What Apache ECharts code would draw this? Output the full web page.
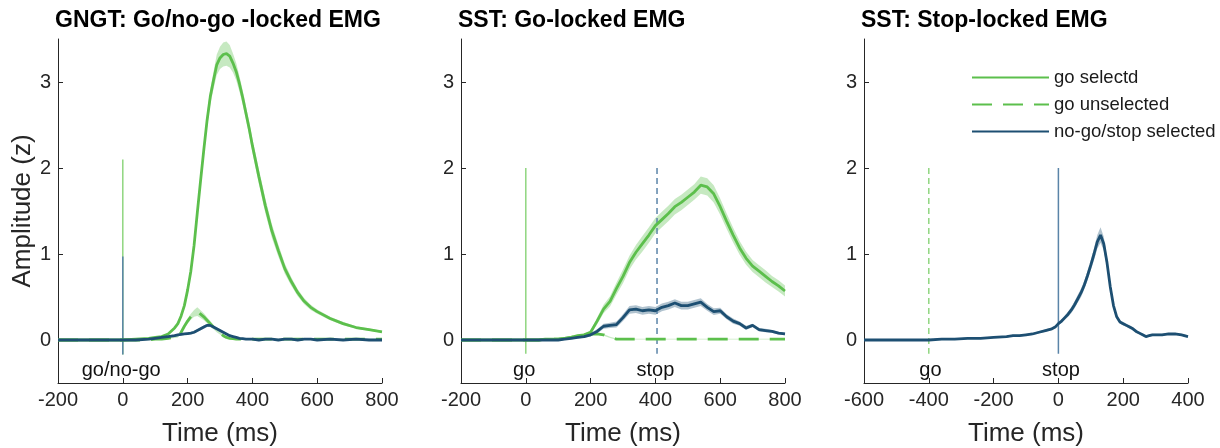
<!DOCTYPE html>
<html>
<head>
<meta charset="utf-8">
<script src="https://cdn.jsdelivr.net/npm/echarts@6/dist/echarts.min.js"></script>
<style>
html,body{margin:0;padding:0;background:#fff;}
#chart{width:1220px;height:448px;}
</style>
</head>
<body>
<div id="chart"></div>
<script>
// ---------------- DATA ----------------
const titles = ['GNGT: Go/no-go -locked EMG', 'SST: Go-locked EMG', 'SST: Stop-locked EMG'];
const seriesNames = ['go selectd', 'go unselected', 'no-go/stop selected'];
const yTicks = [0, 1, 2, 3];
const xRanges = [[-200, 800], [-200, 800], [-600, 400]];

// Panel 1: GNGT go/no-go locked
const t1 = [-200,-160,-120,-80,-40,0,40,80,100,120,140,160,170,180,190,200,210,220,230,240,250,260,270,280,290,300,310,320,330,340,350,360,370,380,390,400,420,440,460,480,500,520,540,560,580,600,640,680,720,760,800];
const p1GoSel = [0,0,0,0,0,0,0.01,0.02,0.03,0.04,0.07,0.14,0.19,0.28,0.40,0.58,0.80,1.10,1.48,1.85,2.21,2.55,2.83,3.02,3.20,3.28,3.32,3.33,3.30,3.22,3.12,2.98,2.82,2.64,2.46,2.26,1.90,1.56,1.27,1.04,0.83,0.68,0.55,0.45,0.38,0.33,0.25,0.19,0.145,0.12,0.095];
const p1GoSelSem = [0.005,0.005,0.005,0.005,0.005,0.005,0.005,0.005,0.006,0.008,0.01,0.015,0.02,0.025,0.03,0.035,0.04,0.045,0.05,0.06,0.07,0.08,0.09,0.10,0.12,0.13,0.14,0.14,0.13,0.11,0.10,0.09,0.085,0.08,0.08,0.08,0.085,0.085,0.08,0.07,0.06,0.05,0.04,0.035,0.03,0.025,0.02,0.018,0.015,0.013,0.012];
const p1GoUnsel = [0,0,0,0,0,0,0,0,0.01,0.01,0.02,0.03,0.04,0.09,0.16,0.22,0.27,0.31,0.33,0.30,0.27,0.23,0.19,0.15,0.11,0.08,0.05,0.03,0.02,0.015,0.01,0.01,0.01,0.01,0.01,0.01,0.01,0.01,0.01,0.01,0.01,0.01,0.01,0.01,0.01,0.01,0.01,0.01,0.01,0.01,0.01];
const p1GoUnselSem = [0.004,0.004,0.004,0.004,0.004,0.004,0.004,0.004,0.005,0.005,0.006,0.008,0.01,0.015,0.02,0.03,0.035,0.04,0.05,0.045,0.04,0.035,0.03,0.025,0.02,0.015,0.01,0.008,0.006,0.005,0.005,0.005,0.005,0.005,0.005,0.005,0.005,0.005,0.005,0.005,0.005,0.005,0.005,0.005,0.005,0.005,0.005,0.005,0.005,0.005,0.005];
const p1Stop = [0,0,0,0,0,0,0,0.01,0.02,0.03,0.04,0.05,0.06,0.065,0.07,0.075,0.08,0.09,0.11,0.13,0.15,0.17,0.17,0.15,0.13,0.11,0.09,0.07,0.05,0.04,0.03,0.02,0.015,0.01,0.01,0.01,0.0,0.01,0.01,0.0,0.01,0.01,0.0,0.01,0.01,0.0,0.01,0.0,0.01,0.0,0.0];
const p1StopSem = [0.01,0.01,0.01,0.01,0.01,0.01,0.01,0.01,0.01,0.01,0.01,0.012,0.012,0.012,0.012,0.013,0.013,0.014,0.015,0.016,0.018,0.02,0.02,0.018,0.016,0.015,0.013,0.012,0.012,0.01,0.01,0.01,0.01,0.01,0.01,0.01,0.01,0.01,0.01,0.01,0.01,0.01,0.01,0.01,0.01,0.01,0.01,0.01,0.01,0.01,0.01];

// Panel 2: SST go locked
const t2 = [-200,-180,-160,-140,-120,-100,-80,-60,-40,-20,0,20,40,60,80,100,120,140,160,180,200,220,240,260,280,300,320,340,360,380,400,420,440,460,480,500,520,540,560,580,600,620,640,660,680,700,720,740,760,780,800];
const p2GoSel = [0,0,0,0,0,0,0,0,0,0,0,0,0,0.01,0.01,0.01,0.02,0.03,0.05,0.06,0.09,0.22,0.36,0.45,0.60,0.74,0.90,1.02,1.12,1.22,1.33,1.40,1.47,1.55,1.60,1.66,1.72,1.80,1.78,1.70,1.55,1.38,1.22,1.07,0.95,0.86,0.80,0.74,0.68,0.63,0.57];
const p2GoSelSem = [0.005,0.005,0.005,0.005,0.005,0.005,0.005,0.005,0.005,0.005,0.005,0.005,0.005,0.005,0.005,0.006,0.008,0.01,0.012,0.015,0.02,0.04,0.05,0.06,0.07,0.08,0.08,0.085,0.09,0.09,0.09,0.09,0.09,0.09,0.09,0.09,0.09,0.1,0.1,0.1,0.095,0.09,0.085,0.08,0.075,0.07,0.07,0.07,0.065,0.065,0.065];
const p2GoUnsel = [0,0,0,0,0,0,0,0,0,0,0,0,0,0.01,0.01,0.01,0.02,0.03,0.05,0.06,0.07,0.07,0.06,0.03,0.01,0.01,0.01,0.01,0.01,0.01,0.01,0.01,0.01,0.01,0.01,0.01,0.01,0.01,0.01,0.01,0.01,0.01,0.01,0.01,0.01,0.01,0.01,0.01,0.01,0.01,0.01];
const p2GoUnselSem = [0.004,0.004,0.004,0.004,0.004,0.004,0.004,0.004,0.004,0.004,0.004,0.004,0.004,0.004,0.004,0.004,0.005,0.006,0.008,0.01,0.012,0.012,0.01,0.008,0.006,0.005,0.005,0.005,0.005,0.005,0.005,0.005,0.005,0.005,0.005,0.005,0.005,0.005,0.005,0.005,0.005,0.005,0.005,0.005,0.005,0.005,0.005,0.005,0.005,0.005,0.005];
const p2Stop = [0,0,0,0,0,0,0,0,0,0,0,0,0,0,0,0,0.01,0.02,0.03,0.04,0.06,0.10,0.16,0.17,0.18,0.26,0.35,0.36,0.34,0.35,0.34,0.38,0.40,0.43,0.40,0.40,0.42,0.44,0.38,0.33,0.34,0.27,0.22,0.19,0.14,0.17,0.12,0.11,0.10,0.08,0.07];
const p2StopSem = [0.008,0.008,0.008,0.008,0.008,0.008,0.008,0.008,0.008,0.008,0.008,0.008,0.008,0.008,0.008,0.008,0.008,0.01,0.012,0.015,0.02,0.025,0.03,0.03,0.035,0.04,0.045,0.045,0.045,0.045,0.045,0.045,0.045,0.045,0.045,0.045,0.045,0.045,0.04,0.04,0.035,0.03,0.03,0.025,0.025,0.02,0.02,0.02,0.015,0.015,0.015];

// Panel 3: SST stop locked
const t3 = [-600,-560,-520,-480,-440,-400,-360,-320,-280,-240,-200,-160,-140,-120,-100,-80,-60,-40,-20,-10,0,10,20,30,40,50,60,70,80,90,100,110,120,130,140,150,160,170,180,190,200,210,220,230,240,250,260,270,280,290,300,320,340,360,380,400];
const p3Stop = [0,0,0,0,0,0,0.01,0.01,0.02,0.02,0.03,0.04,0.05,0.05,0.06,0.07,0.09,0.11,0.13,0.15,0.19,0.22,0.26,0.30,0.35,0.41,0.48,0.55,0.64,0.75,0.87,1.00,1.14,1.22,1.12,0.90,0.62,0.40,0.27,0.21,0.19,0.17,0.15,0.13,0.10,0.08,0.06,0.04,0.05,0.06,0.06,0.06,0.07,0.07,0.06,0.04];
const p3StopSem = [0.008,0.008,0.008,0.008,0.008,0.008,0.008,0.008,0.008,0.008,0.008,0.01,0.01,0.01,0.01,0.012,0.012,0.014,0.015,0.016,0.018,0.02,0.025,0.03,0.035,0.04,0.045,0.05,0.05,0.055,0.06,0.07,0.08,0.09,0.08,0.06,0.04,0.03,0.025,0.02,0.02,0.02,0.02,0.018,0.016,0.015,0.014,0.013,0.012,0.012,0.012,0.012,0.012,0.012,0.012,0.012];

// Event markers: [time, top, bottom]
const p1Events = { goNogo: [0, 2.1, -0.17], nogoPart: [0, 0.97, -0.17] };
const p2Events = { go: [0, 2.0, -0.16], stop: [405, 2.0, -0.16] };
const p3Events = { go: [-400, 2.0, -0.16], stop: [0, 2.0, -0.16] };
const annotations = [
  [{ t: -5, v: -0.35, text: 'go/no-go' }],
  [{ t: -5, v: -0.35, text: 'go' }, { t: 400, v: -0.35, text: 'stop' }],
  [{ t: -395, v: -0.35, text: 'go' }, { t: 8, v: -0.35, text: 'stop' }]
];

// ---------------- STYLE ----------------
const GREEN = '#5cbf4c';
const GREEN_BAND = 'rgba(92,191,76,0.35)';
const GREEN_EVT = '#8fd67f';
const BLUE = '#1d4f72';
const BLUE_BAND = 'rgba(29,79,114,0.35)';
const BLUE_EVT = '#5a84a8';
const AX = '#262626';
const FONT = '"Liberation Sans", Arial, Helvetica, sans-serif';

const gridLefts = [58, 461, 864];
const GRID_W = 324, GRID_TOP = 39, GRID_H = 344;

function pairs(xs, ys) { return xs.map((t, i) => [t, ys[i]]); }

function band(gi, xs, mean, sem, color) {
  return {
    type: 'custom', xAxisIndex: gi, yAxisIndex: gi, silent: true, z: 1,
    data: [[xs[0], mean[0]]],
    renderItem: function (params, api) {
      const pts = [];
      for (let i = 0; i < xs.length; i++) pts.push(api.coord([xs[i], mean[i] + sem[i]]));
      for (let i = xs.length - 1; i >= 0; i--) pts.push(api.coord([xs[i], mean[i] - sem[i]]));
      return { type: 'polygon', shape: { points: pts }, style: { fill: color, stroke: null } };
    }
  };
}

function line(gi, name, xs, ys, color, dash, z) {
  return {
    type: 'line', name: name, xAxisIndex: gi, yAxisIndex: gi, symbol: 'none', silent: true,
    z: z || 3, animation: false,
    lineStyle: { color: color, width: 2.8, type: dash ? [20, 11] : 'solid' },
    itemStyle: { color: color },
    data: pairs(xs, ys)
  };
}

function evt(gi, ev, color, dashed) {
  return {
    type: 'line', xAxisIndex: gi, yAxisIndex: gi, symbol: 'none', silent: true, z: 2,
    lineStyle: { color: color, width: 1.5, type: dashed ? [6, 4] : 'solid' },
    data: [[ev[0], ev[1]], [ev[0], ev[2]]]
  };
}

function annot(gi, list) {
  return {
    type: 'scatter', xAxisIndex: gi, yAxisIndex: gi, silent: true, z: 5,
    symbolSize: 1, itemStyle: { color: 'rgba(255,255,255,0)', opacity: 1 },
    data: list.map(a => ({ value: [a.t, a.v], label: { formatter: a.text } })),
    label: { show: true, position: 'inside', color: '#111', opacity: 1, fontSize: 20, fontFamily: FONT }
  };
}

const grids = [], xAxes = [], yAxes = [], titleArr = [];
for (let g = 0; g < 3; g++) {
  grids.push({ left: gridLefts[g], top: GRID_TOP, width: GRID_W, height: GRID_H, containLabel: false, outerBoundsMode: 'none' });
  xAxes.push({
    type: 'value', gridIndex: g, min: xRanges[g][0], max: xRanges[g][1], interval: 200,
    name: 'Time (ms)', nameLocation: 'middle', nameGap: 38,
    nameTextStyle: { fontSize: 26, color: AX, fontFamily: FONT },
    axisLine: { show: true, onZero: false, lineStyle: { color: AX, width: 1 } },
    axisTick: { show: true, inside: true, length: 5, lineStyle: { color: AX } },
    axisLabel: { color: AX, fontSize: 20, fontFamily: FONT, margin: 7, showMinLabel: true, showMaxLabel: true, hideOverlap: false },
    splitLine: { show: false }
  });
  yAxes.push({
    type: 'value', gridIndex: g, min: -0.5, max: 3.5,
    name: g === 0 ? 'Amplitude (z)' : '', nameLocation: 'middle', nameGap: 17, nameRotate: 90,
    nameTextStyle: { fontSize: 26, color: AX, fontFamily: FONT },
    axisLine: { show: true, onZero: false, lineStyle: { color: AX, width: 1 } },
    axisTick: { show: true, inside: true, length: 5, lineStyle: { color: AX }, customValues: yTicks },
    axisLabel: { color: AX, fontSize: 20, fontFamily: FONT, margin: 7, customValues: yTicks },
    splitLine: { show: false }
  });
  titleArr.push({
    text: titles[g], left: gridLefts[g] - 3, top: 9, padding: 0,
    textStyle: { fontSize: 23, fontWeight: 'bold', color: '#000', fontFamily: FONT }
  });
}

const series = [
  // panel 1
  evt(0, p1Events.goNogo, GREEN_EVT, false),
  evt(0, p1Events.nogoPart, BLUE_EVT, false),
  band(0, t1, p1GoSel, p1GoSelSem, GREEN_BAND),
  band(0, t1, p1GoUnsel, p1GoUnselSem, GREEN_BAND),
  band(0, t1, p1Stop, p1StopSem, BLUE_BAND),
  line(0, seriesNames[0], t1, p1GoSel, GREEN, false, 3),
  line(0, seriesNames[1], t1, p1GoUnsel, GREEN, true, 3),
  line(0, seriesNames[2], t1, p1Stop, BLUE, false, 4),
  annot(0, annotations[0]),
  // panel 2
  evt(1, p2Events.go, GREEN_EVT, false),
  evt(1, p2Events.stop, BLUE_EVT, true),
  band(1, t2, p2GoSel, p2GoSelSem, GREEN_BAND),
  band(1, t2, p2GoUnsel, p2GoUnselSem, GREEN_BAND),
  band(1, t2, p2Stop, p2StopSem, BLUE_BAND),
  line(1, seriesNames[0], t2, p2GoSel, GREEN, false, 3),
  line(1, seriesNames[1], t2, p2GoUnsel, GREEN, true, 3),
  line(1, seriesNames[2], t2, p2Stop, BLUE, false, 4),
  annot(1, annotations[1]),
  // panel 3
  evt(2, p3Events.go, GREEN_EVT, true),
  evt(2, p3Events.stop, BLUE_EVT, false),
  band(2, t3, p3Stop, p3StopSem, BLUE_BAND),
  line(2, seriesNames[2], t3, p3Stop, BLUE, false, 4),
  annot(2, annotations[2])
];

const chart = echarts.init(document.getElementById('chart'), null, { renderer: 'canvas' });
chart.setOption({
  animation: false,
  backgroundColor: '#fff',
  title: titleArr,
  grid: grids,
  xAxis: xAxes,
  yAxis: yAxes,
  legend: {
    data: seriesNames, orient: 'vertical', left: 966, top: 63, itemWidth: 77, itemHeight: 14, itemGap: 8,
    selectedMode: false,
    itemStyle: { opacity: 0 },
    textStyle: { fontSize: 18.5, color: '#1a1a1a', fontFamily: FONT }
  },
  series: series
});
</script>
</body>
</html>
